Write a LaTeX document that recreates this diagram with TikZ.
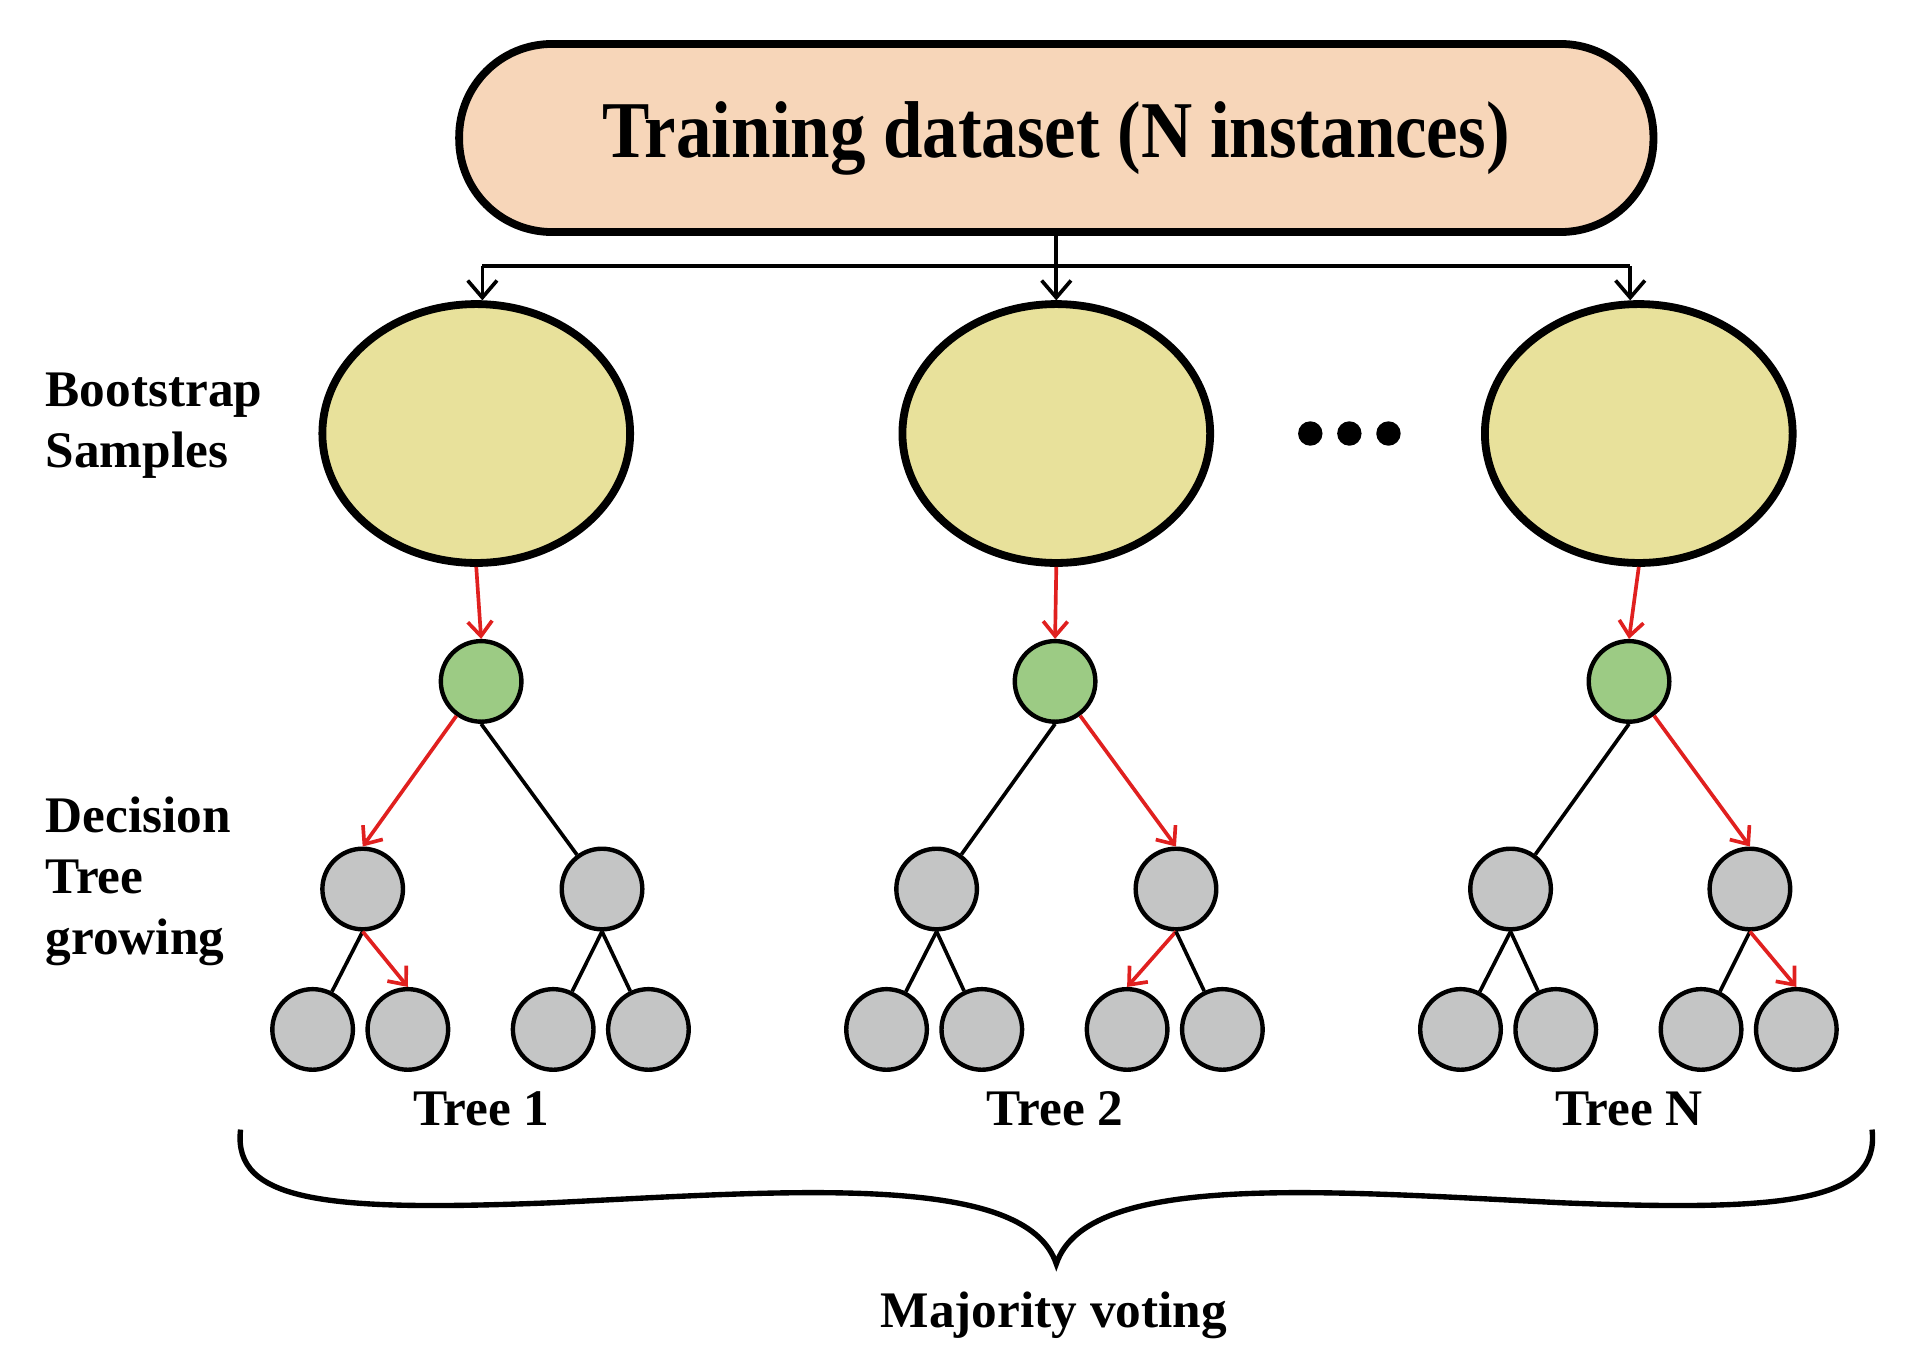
\documentclass[tikz,border=0pt]{standalone}
\usepackage{fontspec}
\setmainfont{Liberation Serif}
\usetikzlibrary{arrows.meta,shapes.geometric}
\begin{document}
\begin{tikzpicture}[x=0.5pt,y=-0.5pt,
  big/.style={ellipse,draw=black,line width=3.2pt,fill=sampfill,minimum width=126pt,minimum height=106pt,inner sep=0},
  g/.style={ellipse,draw=black,line width=1.8pt,fill=nodegray,minimum width=33pt,minimum height=33pt,inner sep=0},
  gr/.style={g,fill=nodegreen},
  e/.style={line width=1.5pt},
  re/.style={line width=1.5pt,draw=arrred,-{Straight Barb[length=6pt,width=10pt,line width=1.5pt]}},
  be/.style={line width=1.5pt,-{Straight Barb[length=7pt,width=12pt,line width=1.5pt]}},
  lab/.style={font=\bfseries\fontsize{21}{25}\selectfont,align=left,inner sep=0,anchor=north west}]
\definecolor{sampfill}{HTML}{E8E19B}
\definecolor{nodegray}{HTML}{C4C5C5}
\definecolor{nodegreen}{HTML}{9CCB84}
\definecolor{arrred}{HTML}{E0201F}
\definecolor{boxfill}{HTML}{F7D6B9}
\useasboundingbox (0,0) rectangle (1560,1120);
\node (top) [draw=black,line width=3.2pt,fill=boxfill,rounded corners=38pt,minimum width=489pt,minimum height=77pt,inner sep=0] at (865,113)
  {\scalebox{0.88}[1]{\bfseries\fontsize{33}{38}\selectfont Training dataset (N instances)}};
\coordinate (j) at (865,218);
\coordinate (jl) at (395,218);
\coordinate (jr) at (1335,218);
\draw[e] (top.south) -- (j);
\draw[e] (jl) -- (jr);
\node[big] (s1) at (390,355) {};
\node[big] (s2) at (865,355) {};
\node[big] (s3) at (1342,355) {};
\draw[be] (jl) -- (395,246);
\draw[be] (j) -- (865,246);
\draw[be] (jr) -- (1335,246);
\foreach \x in {1073,1105,1137} \fill (\x,355) circle (5pt);
\foreach \t/\cx/\lab in {1/394/Tree 1,2/864/Tree 2,3/1334/Tree N}{
  \node[gr] (r\t) at (\cx,558) {};
  \node[g] (a\t) at (\cx-97,728) {};
  \node[g] (b\t) at (\cx+99,728) {};
  \node[g] (l\t1) at (\cx-138,843) {};
  \node[g] (l\t2) at (\cx-60,843) {};
  \node[g] (l\t3) at (\cx+59,843) {};
  \node[g] (l\t4) at (\cx+137,843) {};
  \node[font=\bfseries\fontsize{21}{25}\selectfont] (t\t) at (\cx,908) {\lab};
  \draw[re] (s\t.south) -- (r\t.north);
}
\draw[re] (r1) -- (a1.north); \draw[e] (r1.south) -- (b1);
\draw[e] (a1.south) -- (l11); \draw[re] (a1.south) -- (l12.north);
\draw[e] (b1.south) -- (l13); \draw[e] (b1.south) -- (l14);
\draw[e] (r2.south) -- (a2); \draw[re] (r2) -- (b2.north);
\draw[e] (a2.south) -- (l21); \draw[e] (a2.south) -- (l22);
\draw[re] (b2.south) -- (l23.north); \draw[e] (b2.south) -- (l24);
\draw[e] (r3.south) -- (a3); \draw[re] (r3) -- (b3.north);
\draw[e] (a3.south) -- (l31); \draw[e] (a3.south) -- (l32);
\draw[e] (b3.south) -- (l33); \draw[re] (b3.south) -- (l34.north);
\node[lab] (bs) at (37,305) {Bootstrap\\Samples};
\node[lab] (dt) at (37,652) {Decision\\Tree\\growing};
\coordinate (bl) at (197,925);
\coordinate (br) at (1533,925);
\coordinate (tip) at (865,1035);
\draw[line width=2.2pt] (bl) .. controls (190,985) and (270,992) .. (450,985)
  .. controls (650,975) and (840,960) .. (tip)
  .. controls (890,960) and (1080,975) .. (1280,985)
  .. controls (1460,992) and (1540,985) .. (br);
\node[font=\bfseries\fontsize{21}{25}\selectfont] (mv) at (863,1077) {Majority voting};
\end{tikzpicture}
\end{document}
